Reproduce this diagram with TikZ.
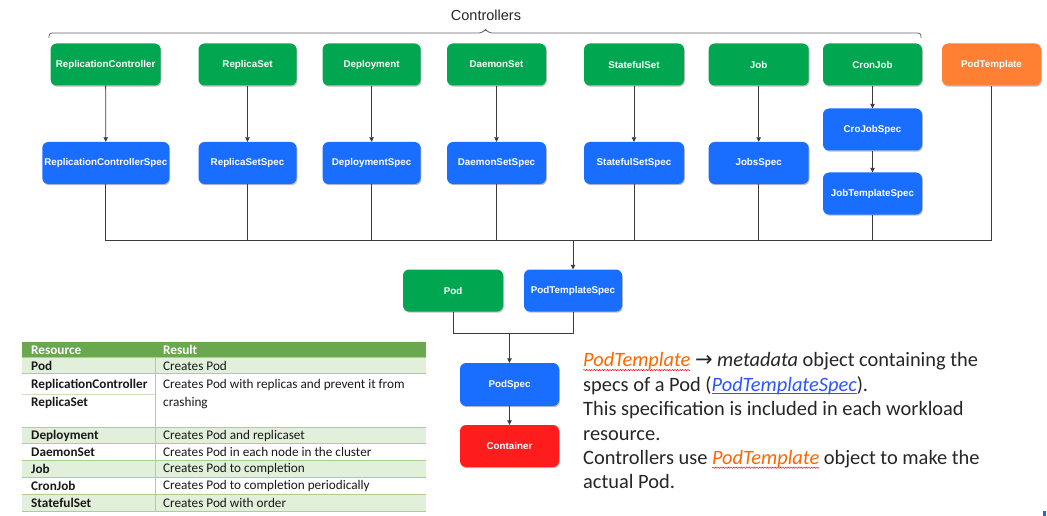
\documentclass[tikz,border=0pt]{standalone}
\usepackage{fontspec}
\setmainfont{Carlito}
\newfontfamily\arialf{Liberation Sans}
\newfontfamily\dejavu{DejaVu Sans}
\usetikzlibrary{arrows.meta,shadows,decorations.pathmorphing}
\definecolor{cgreen}{RGB}{0,166,80}
\definecolor{cblue}{RGB}{26,110,255}
\definecolor{corange}{RGB}{255,128,51}
\definecolor{cred}{RGB}{255,28,28}
\definecolor{thead}{RGB}{106,168,79}
\definecolor{tlight}{RGB}{226,239,218}
\definecolor{tline}{RGB}{169,208,142}
\definecolor{txt}{RGB}{38,38,38}
\definecolor{linkblue}{RGB}{45,85,255}
\definecolor{tmplorange}{RGB}{255,102,0}
\definecolor{wire}{RGB}{60,60,60}
\definecolor{markblue}{RGB}{31,111,181}
\newsavebox\mytxtbox
\newcommand\solidunder[1]{\sbox\mytxtbox{#1}\rlap{\raisebox{-2.4pt}{\rule{\wd\mytxtbox}{0.8pt}}}\usebox\mytxtbox}
\newcommand\spellwave[1]{\sbox\mytxtbox{#1}\rlap{\tikz[overlay,baseline=0pt]{\draw[red, line width=0.45pt, decorate, decoration={snake, amplitude=0.7pt, segment length=2.6pt}] (0pt,-3.2pt) -- (\the\wd\mytxtbox,-3.2pt);}}\usebox\mytxtbox}
\tikzset{
  box/.style={rounded corners=6pt, text=white, inner sep=0pt,
    font=\arialf\bfseries\fontsize{9.8}{11}\selectfont,
    drop shadow={shadow xshift=0.8pt, shadow yshift=-1.2pt, opacity=0.25, fill=black}},
  gbox/.style={box, fill=cgreen, minimum height=42pt},
  bbox/.style={box, fill=cblue, minimum height=42pt},
  wireline/.style={draw=wire, line width=0.8pt},
  arr/.style={wireline, -{Triangle[width=4.5pt,length=4.5pt]}},
  tcell/.style={anchor=west, inner sep=0pt, text=black!90, font=\fontsize{13.2}{15}\selectfont},
  tbcell/.style={tcell, font=\bfseries\fontsize{13.2}{15}\selectfont},
  thcell/.style={anchor=west, inner sep=0pt, text=white, font=\bfseries\fontsize{13.2}{15}\selectfont},
}
\begin{document}
\begin{tikzpicture}[x=1pt,y=-1pt]
\useasboundingbox (0,0) rectangle (1047,516);
\fill[white] (0,0) rectangle (1047,516);

% brace and label
\node[font=\arialf\fontsize{14.5}{16}\selectfont, text=txt] (ctl) at (486,15) {Controllers};
\draw[draw=black!60, line width=0.8pt, rounded corners=3pt]
  (49,38) -- (49,33) -- (482,33) -- (485.5,29) -- (489,33) -- (921,33) -- (921,38);

% row 1
\node[gbox, minimum width=110pt] (rc) at (105.6,64.5) {ReplicationController};
\node[gbox, minimum width=98pt] (rs) at (247.5,64.5) {ReplicaSet};
\node[gbox, minimum width=98pt] (dep) at (371.6,64.5) {Deployment};
\node[gbox, minimum width=99pt] (ds) at (496.5,64.5) {DaemonSet};
\node[gbox, minimum width=100pt] (ss) at (634,64.5) {StatefulSet};
\node[gbox, minimum width=100pt] (job) at (758.7,64.5) {Job};
\node[gbox, minimum width=99pt] (cj) at (872.5,64.5) {CronJob};
\node[box, fill=corange, minimum width=99pt, minimum height=42pt] (pt) at (991.5,64.5) {PodTemplate};

% row 2
\node[bbox, minimum width=127pt] (rcs) at (105.8,163) {ReplicationControllerSpec};
\node[bbox, minimum width=98pt] (rss) at (247.5,163) {ReplicaSetSpec};
\node[bbox, minimum width=98pt] (deps) at (371.6,163) {DeploymentSpec};
\node[bbox, minimum width=99pt] (dss) at (496.5,163) {DaemonSetSpec};
\node[bbox, minimum width=100pt] (sss) at (634,163) {StatefulSetSpec};
\node[bbox, minimum width=100pt] (jobs) at (758.7,163) {JobsSpec};
\node[bbox, minimum width=99pt] (cjs) at (872.5,129.5) {CroJobSpec};
\node[bbox, minimum width=99pt] (jts) at (872.5,193.5) {JobTemplateSpec};

% row 3 and below
\node[gbox, minimum width=100pt] (pod) at (453,290.5) {Pod};
\node[bbox, minimum width=98pt] (pts) at (573,290.5) {PodTemplateSpec};
\node[bbox, minimum width=99pt, minimum height=43pt] (ps) at (509.5,384.5) {PodSpec};
\node[box, fill=cred, minimum width=99pt, minimum height=42pt] (cont) at (509.5,446) {Container};

% arrows controller -> spec
\draw[arr] (rc) -- (rcs);
\draw[arr] (rs) -- (rss);
\draw[arr] (dep) -- (deps);
\draw[arr] (ds) -- (dss);
\draw[arr] (ss) -- (sss);
\draw[arr] (job) -- (jobs);
\draw[arr] (cj) -- (cjs);
\draw[arr] (cjs) -- (jts);

% bus
\coordinate (bus) at (573,240);
\draw[wireline] (rcs.south) -- (rcs.south |- bus) -- (pt.south |- bus) -- (pt.south);
\foreach \n in {rss,deps,dss,sss,jobs,jts} \draw[wireline] (\n.south) -- (\n.south |- bus);
\draw[arr] (bus) -- (pts.north);

% join
\coordinate (join) at (509.5,333);
\draw[wireline] (pod.south) -- (pod.south |- join) -- (pts.south |- join) -- (pts.south);
\draw[arr] (join) -- (ps.north);
\draw[arr] (ps) -- (cont);

% table
\fill[thead] (22,342) rectangle (426,357);
\fill[tlight] (22,357) rectangle (426,373);
\fill[tlight] (22,427) rectangle (426,443);
\fill[tlight] (22,460) rectangle (426,477);
\fill[tlight] (22,494) rectangle (426,511);
\foreach \yy in {357,373,427,443,460,477,494,511} \draw[tline, line width=0.6pt] (22,\yy) -- (426,\yy);
\draw[tline!60, line width=0.5pt] (22,394) -- (155,394);
\draw[black!25, line width=0.5pt] (155,357) -- (155,511);
\node[thcell] (h1) at (31,350) {Resource};
\node[thcell] (h2) at (163,350) {Result};
\node[tbcell] (r1a) at (31,365.5) {Pod};
\node[tcell] (r1b) at (163,365.5) {Creates Pod};
\node[tbcell] (r2a) at (31,385) {ReplicationController};
\node[tcell] (r2b) at (163,385) {Creates Pod with replicas and prevent it from};
\node[tbcell] (r3a) at (31,403) {ReplicaSet};
\node[tcell] (r3b) at (163,403) {crashing};
\node[tbcell] (r4a) at (31,435.5) {Deployment};
\node[tcell] (r4b) at (163,435.5) {Creates Pod and replicaset};
\node[tbcell] (r5a) at (31,452) {DaemonSet};
\node[tcell] (r5b) at (163,452) {Creates Pod in each node in the cluster};
\node[tbcell] (r6a) at (31,469) {Job};
\node[tcell] (r6b) at (163,469) {Creates Pod to completion};
\node[tbcell] (r7a) at (31,486) {CronJob};
\node[tcell] (r7b) at (163,486) {Creates Pod to completion periodically};
\node[tbcell] (r8a) at (31,503) {StatefulSet};
\node[tcell] (r8b) at (163,503) {Creates Pod with order};

% explanation text
\node[anchor=north west, inner sep=0pt, align=left, text=txt,
      font=\fontsize{20.4}{24.4}\selectfont] (expl) at (583,352.5)
  {\textcolor{tmplorange}{\spellwave{\textit{PodTemplate}}} {\dejavu\fontsize{21}{24.4}\selectfont →} \textit{metadata} object containing the\\
   specs of a Pod (\textcolor{linkblue}{\solidunder{\textit{PodTemplateSpec}}}).\\
   This specification is included in each workload\\
   resource.\\
   Controllers use \textcolor{tmplorange}{\spellwave{\textit{PodTemplate}}} object to make the\\
   actual Pod.};

% small mark bottom right
\fill[markblue] (1043,511) rectangle (1045.5,516);
\end{tikzpicture}
\end{document}
